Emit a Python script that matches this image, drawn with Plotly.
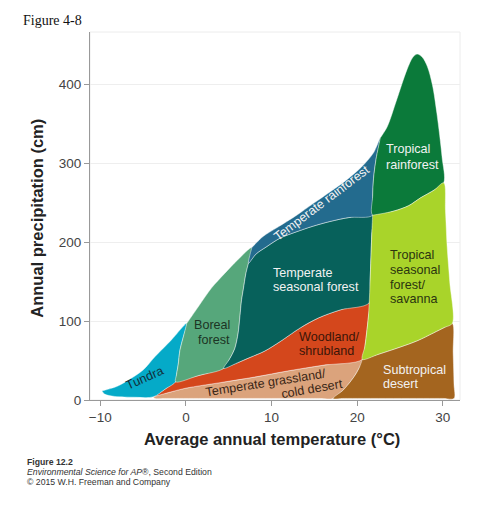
import plotly.graph_objects as go

# Whittaker-style biome diagram
# every boundary is read off the figure as (temperature in degC, precipitation in cm)

###########################################################################################
# boundary curves

tundra_top_t = [-9.8, -8.1, -6.75, -5.0, -3.6, -1.7, 0.1]
tundra_top_p = [11.5, 17, 25, 38, 55, 76, 97]

tundra_boreal_t = [0.1, -0.3, -0.7, -0.9, -1.1, -1.2]
tundra_boreal_p = [97, 80, 63, 45, 32, 23]

tundra_red_t = [-1.2, -2.4, -3.8]
tundra_red_p = [23, 14, 4]

tundra_bottom_t = [-3.8, -6.0, -8.3, -9.5, -9.8]
tundra_bottom_p = [4, 3.5, 4.5, 7.5, 11.5]

boreal_top_t = [0.1, 1.5, 3.0, 4.5, 6.0, 7.7]
boreal_top_p = [97, 119, 142, 160, 177, 193]

boreal_blue_t = [7.7, 7.3]
boreal_blue_p = [193, 173]

boreal_teal_t = [7.3, 7.0, 6.7, 6.5, 6.3, 6.1, 5.7, 5.1, 4.4]
boreal_teal_p = [173, 160, 140, 127, 105, 85, 65, 52, 40]

boreal_bottom_t = [-1.2, 1.5, 4.4]
boreal_bottom_p = [23, 31, 40]

temp_rain_top_t = [7.7, 9.0, 10.6, 12.8, 14.9, 16.9, 18.8, 20.5, 21.9, 22.7]
temp_rain_top_p = [193, 207, 218, 233, 249, 264, 279, 295, 313, 332]

blue_teal_t = [7.3, 8.2, 9.4, 11.0, 12.9, 14.8, 16.8, 19.0, 21.8]
blue_teal_p = [173, 185, 194, 205, 213, 220, 226, 231, 234]

blue_green_t = [21.8, 21.8, 21.9, 22.2, 22.7]
blue_green_p = [234, 258, 280, 305, 332]

trop_rain_top_t = [22.7, 23.5, 24.6, 25.8, 26.5, 27.0, 27.6, 28.2, 28.8, 29.3, 29.9, 30.1]
trop_rain_top_p = [332, 346, 380, 418, 434, 438, 434, 422, 398, 363, 308, 275]

lime_top_t = [21.8, 24.2, 26.0, 27.4, 29.0, 30.1]
lime_top_p = [234, 239, 246, 256, 266, 275]

lime_right_t = [30.1, 30.3, 30.5, 30.8, 31.1]
lime_right_p = [275, 240, 194, 150, 97]

lime_brown_t = [20.6, 22.5, 25.0, 27.0, 28.9, 30.2, 31.1]
lime_brown_p = [51.5, 58, 67, 75, 85, 92, 97]

red_lime_t = [21.4, 21.3, 21.1, 20.9, 20.6]
red_lime_p = [123, 105, 85, 68, 51.5]

teal_lime_t = [21.4, 21.5, 21.6, 21.7, 21.8]
teal_lime_p = [123, 150, 180, 210, 234]

teal_red_t = [4.4, 6.0, 7.5, 9.2, 11.0, 13.3, 15.5, 18.0, 21.4]
teal_red_p = [40, 47, 54, 62, 74, 91, 104, 114, 123]

tan_top_t = [-3.8, -2.0, 0.0, 4.0, 8.0, 12.0, 16.0, 20.6]
tan_top_p = [4, 9.5, 15, 22, 29, 37, 44, 51.5]

tan_brown_t = [20.6, 20.2, 19.6, 18.4, 17.2]
tan_brown_p = [51.5, 40, 29, 13, 2]

tan_ground_t = [17.2, 15.5, -2.5, -3.6]
tan_ground_p = [2, 2, 2, 2]

desert_right_t = [31.1, 31.2, 31.3, 31.3]
desert_right_p = [97, 60, 20, 2]

desert_ground_t = [31.3, 30.0, 18.5, 17.2]
desert_ground_p = [2, 2, 2, 2]


def join(*parts):
    # parts are (t, p, reverse); the first point of every following part is dropped
    xs, ys = [], []
    for i, (t, p, rev) in enumerate(parts):
        t, p = (t[::-1], p[::-1]) if rev else (t, p)
        if i > 0:
            t, p = t[1:], p[1:]
        xs += list(t)
        ys += list(p)
    return xs, ys


biomes = [
    ("Temperate grassland/cold desert", "#dba37c",
     join((tan_top_t, tan_top_p, False), (tan_brown_t, tan_brown_p, False),
          (tan_ground_t, tan_ground_p, False))),
    ("Subtropical desert", "#a4651f",
     join((lime_brown_t, lime_brown_p, False), (desert_right_t, desert_right_p, False),
          (desert_ground_t, desert_ground_p, False), (tan_brown_t, tan_brown_p, True))),
    ("Woodland/shrubland", "#d4471c",
     join((tundra_red_t, tundra_red_p, True), (boreal_bottom_t, boreal_bottom_p, False),
          (teal_red_t, teal_red_p, False), (red_lime_t, red_lime_p, False),
          (tan_top_t, tan_top_p, True))),
    ("Tundra", "#05aac8",
     join((tundra_top_t, tundra_top_p, False), (tundra_boreal_t, tundra_boreal_p, False),
          (tundra_red_t, tundra_red_p, False), (tundra_bottom_t, tundra_bottom_p, False))),
    ("Boreal forest", "#56a77b",
     join((boreal_top_t, boreal_top_p, False), (boreal_blue_t, boreal_blue_p, False),
          (boreal_teal_t, boreal_teal_p, False), (boreal_bottom_t, boreal_bottom_p, True),
          (tundra_boreal_t, tundra_boreal_p, True))),
    ("Temperate seasonal forest", "#07615b",
     join((blue_teal_t, blue_teal_p, False), (teal_lime_t, teal_lime_p, True),
          (teal_red_t, teal_red_p, True), (boreal_teal_t, boreal_teal_p, True))),
    ("Temperate rainforest", "#236b8e",
     join((temp_rain_top_t, temp_rain_top_p, False), (blue_green_t, blue_green_p, True),
          (blue_teal_t, blue_teal_p, True), (boreal_blue_t, boreal_blue_p, True))),
    ("Tropical rainforest", "#0b7a3a",
     join((trop_rain_top_t, trop_rain_top_p, False), (lime_top_t, lime_top_p, True),
          (blue_green_t, blue_green_p, False))),
    ("Tropical seasonal forest/savanna", "#a9d42a",
     join((lime_top_t, lime_top_p, False), (lime_right_t, lime_right_p, False),
          (lime_brown_t, lime_brown_p, True), (red_lime_t, red_lime_p, True),
          (teal_lime_t, teal_lime_p, False))),
]

fig = go.Figure()
for name, color, (xs, ys) in biomes:
    fig.add_trace(go.Scatter(
        x=xs + xs[:1],
        y=ys + ys[:1],
        name=name,
        mode="lines",
        fill="toself",
        fillcolor=color,
        line=dict(color="rgba(255,255,255,0.55)", width=0.8, shape="spline", smoothing=0.9),
        hoverinfo="name",
    ))

###########################################################################################
# labels inside the regions, one annotation per text line

label_font = "Liberation Sans, Arial, sans-serif"
white = "#f2f2f2"
labels = [
    # text, x, y, angle, color, xanchor
    ("Tundra", -4.8, 27.9, -24, "#12303a", "center"),
    ("Boreal", 3.1, 95, 0, "#1c3424", "center"),
    ("forest", 3.3, 76, 0, "#1c3424", "center"),
    ("Temperate", 9.95, 160.5, 0, white, "left"),
    ("seasonal forest", 9.95, 143.6, 0, white, "left"),
    ("Temperate rainforest", 15.9, 249, -37, white, "center"),
    ("Tropical", 23.15, 317.7, 0, white, "left"),
    ("rainforest", 23.15, 297.8, 0, white, "left"),
    ("Tropical", 23.55, 183.8, 0, "#2b3510", "left"),
    ("seasonal", 23.55, 164.8, 0, "#2b3510", "left"),
    ("forest/", 23.55, 146.1, 0, "#2b3510", "left"),
    ("savanna", 23.55, 127.6, 0, "#2b3510", "left"),
    ("Woodland/", 13.0, 80.2, 0, "#3b1508", "left"),
    ("shrubland", 13.0, 62.5, 0, "#3b1508", "left"),
    ("Temperate grassland/", 9.3, 21.1, -9, "#3a2616", "center"),
    ("cold desert", 14.7, 13.9, -10, "#3a2616", "center"),
    ("Subtropical", 22.8, 38.0, 0, white, "left"),
    ("desert", 22.8, 20.3, 0, white, "left"),
]
for text, x, y, angle, color, xanchor in labels:
    fig.add_annotation(
        x=x, y=y, xref="x", yref="y", text=text, showarrow=False,
        textangle=angle, xanchor=xanchor, yanchor="middle",
        font=dict(family=label_font, size=12.6, color=color),
    )

###########################################################################################
# titles and source note

fig.add_annotation(
    x=0.493, y=-0.106, xref="paper", yref="paper", showarrow=False,
    text="<b>Average annual temperature (°C)</b>", yanchor="middle",
    font=dict(family=label_font, size=16.5, color="#222222"),
)
fig.add_annotation(
    x=-0.144, y=0.4946, xref="paper", yref="paper", showarrow=False,
    text="<b>Annual precipitation (cm)</b>", textangle=-90, xanchor="center",
    font=dict(family=label_font, size=16.5, color="#222222"),
)
fig.add_annotation(
    x=-0.1865, y=1.0326, xref="paper", yref="paper", showarrow=False,
    text="Figure 4-8", xanchor="left", yanchor="middle",
    font=dict(family="Liberation Serif, Times New Roman, serif", size=14, color="#111111"),
)
source_lines = [
    "<b>Figure 12.2</b>",
    "<i>Environmental Science for AP</i>®, Second Edition",
    "© 2015 W.H. Freeman and Company",
]
for i, line in enumerate(source_lines):
    fig.add_annotation(
        x=-0.1757, y=-0.1677 - 0.0272 * i, xref="paper", yref="paper", showarrow=False,
        text=line, xanchor="left", yanchor="middle",
        font=dict(family=label_font, size=8.7, color="#333333"),
    )

# faint frame on top and right
fig.add_shape(type="rect", xref="paper", yref="paper", x0=0, y0=0, x1=1, y1=1,
              line=dict(color="#ececec", width=1), layer="below")

# the page adds an 8px body margin, so the figure is 8px smaller than the window
fig.update_layout(
    width=486,
    height=504,
    margin=dict(l=82, r=34, t=24, b=112),
    plot_bgcolor="white",
    paper_bgcolor="white",
    showlegend=False,
    font=dict(family=label_font),
)
fig.update_xaxes(
    range=[-11.2, 32.0],
    tickvals=[-10, 0, 10, 20, 30],
    ticktext=["\u221210", "0", "10", "20", "30"],
    ticks="outside", ticklen=5, tickcolor="#999999",
    showgrid=False, zeroline=False,
    showline=True, linecolor="#999999", linewidth=1,
    tickfont=dict(size=13.5, color="#444444"),
)
fig.update_yaxes(
    range=[0, 466],
    tickvals=[0, 100, 200, 300, 400],
    ticks="outside", ticklen=5, tickcolor="#999999",
    showgrid=True, gridcolor="#eeeeee", zeroline=False,
    showline=True, linecolor="#999999", linewidth=1,
    tickfont=dict(size=13.5, color="#444444"),
)

fig.write_html("out.html")
